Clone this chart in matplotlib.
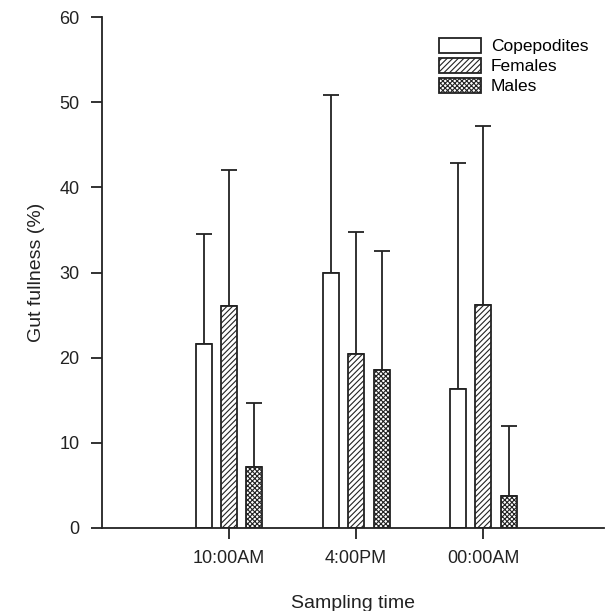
import matplotlib.pyplot as plt
import numpy as np

plt.rcParams['font.family'] = ['Liberation Sans', 'DejaVu Sans']
plt.rcParams['hatch.color'] = '#333333'
plt.rcParams['hatch.linewidth'] = 0.8

times = ['10:00AM', '4:00PM', '00:00AM']
groups = ['Copepodites', 'Females', 'Males']
means = {
    'Copepodites': [21.6, 30.0, 16.3],
    'Females': [26.1, 20.4, 26.2],
    'Males': [7.1, 18.6, 3.8],
}
upper = {
    'Copepodites': [34.5, 50.9, 42.9],
    'Females': [42.0, 34.7, 47.2],
    'Males': [14.7, 32.5, 12.0],
}
hatches = {'Copepodites': '', 'Females': '//////', 'Males': 'xxxxxxx'}

fig = plt.figure(figsize=(6.06, 6.11), dpi=100)
ax = fig.add_axes([0.168, 0.136, 0.829, 0.836])

x = np.arange(1, len(times) + 1)
width = 0.125
step = 0.2
for k, g in enumerate(groups):
    xs = x + (k - 1) * step
    m = np.array(means[g])
    err = np.array(upper[g]) - m
    ax.bar(xs, m, width, color='white', edgecolor='#222222', linewidth=1.3,
           hatch=hatches[g], label=g, zorder=2)
    ax.errorbar(xs, m, yerr=[np.zeros_like(err), err], fmt='none',
                ecolor='#222222', elinewidth=1.3, capsize=6, capthick=1.3,
                zorder=1)

ax.set_xlim(0, 3.95)
ax.set_ylim(0, 60)
ax.set_xticks(x)
ax.set_xticklabels(times)
ax.set_yticks(np.arange(0, 61, 10))
ax.spines['top'].set_visible(False)
ax.spines['right'].set_visible(False)
for s in ['left', 'bottom']:
    ax.spines[s].set_linewidth(1.3)
    ax.spines[s].set_color('#222222')
ax.tick_params(direction='out', length=8, width=1.3, labelsize=13,
               color='#222222', labelcolor='#222222', pad=8)
ax.set_xlabel('Sampling time', fontsize=14, color='#222222', labelpad=20)
ax.set_ylabel('Gut fullness (%)', fontsize=14, color='#222222', labelpad=10)

ax.legend(loc='upper right', bbox_to_anchor=(1.0, 0.99), frameon=False,
          fontsize=12.5, handlelength=2.4, handleheight=0.95,
          labelspacing=0.2, handletextpad=0.6, borderaxespad=0.5)

fig.savefig('out.png', dpi=100)
